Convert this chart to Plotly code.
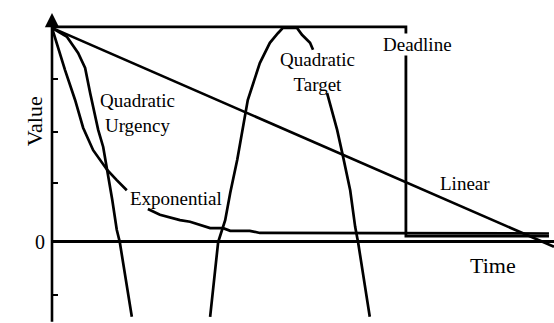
import plotly.graph_objects as go

# time axis: 0 at the value axis, 10 at the right edge
# value axis: 0 at the time line, 4 = start value

linear_t = [0.0, 10.0]
linear_v = [4.0, -0.10]

deadline_t = [0.0, 7.05, 7.05, 9.90]
deadline_v = [4.02, 4.02, 0.10, 0.10]

exp_t = [0.0, 0.26, 0.46, 0.62, 0.82, 1.10, 1.29, 1.49, None,
         1.91, 2.15, 2.55, 2.75, 3.15, 3.41, 3.55, 3.94, 4.14, 7.05, 9.90]
exp_v = [4.0, 3.21, 2.65, 2.13, 1.71, 1.34, 1.15, 0.96, None,
         0.61, 0.50, 0.40, 0.37, 0.25, 0.25, 0.20, 0.20, 0.16, 0.15, 0.15]

urgency_t = [0.0, 0.30, 0.52, 0.66, 0.76, 0.86, 0.92, 1.02, 1.10, 1.20, 1.29, 1.35, 1.59]
urgency_v = [4.0, 3.83, 3.53, 3.25, 2.78, 2.33, 2.09, 1.77, 1.34, 0.78, 0.22, -0.01, -1.41]

target_t = [3.15, 3.31, 3.45, 3.55, 3.69, 3.90, 4.14, 4.34, 4.50, 4.60, 4.74, 4.88,
            4.98, 5.14, 5.20, None, 5.48, 5.68, 5.80, 5.94, 6.04, 6.10, 6.33]
target_v = [-1.41, -0.01, 0.40, 0.91, 1.53, 2.65, 3.34, 3.72, 3.90, 4.0, 4.0, 4.0,
            3.87, 3.72, 3.59, None, 2.78, 2.09, 1.58, 0.96, 0.27, -0.03, -1.41]

tick_vals = [3.04, 2.05, 1.10, 0, -1.0]
tick_text = ["", "", "", "0", ""]

labels = [
    ("Quadratic<br>Urgency", 1.71, 2.41),
    ("Exponential", 2.47, 0.81),
    ("Quadratic<br>Target", 5.28, 3.17),
    ("Deadline", 7.29, 3.68),
    ("Linear", 8.23, 1.08),
    ("Time", 8.78, -0.44),
]

FONT = "Liberation Serif"
LW = 2.7

fig = go.Figure()
for t, v, w in [
    (deadline_t, deadline_v, 2.8),
    (linear_t, linear_v, LW),
    (exp_t, exp_v, LW),
    (urgency_t, urgency_v, LW),
    (target_t, target_v, LW),
]:
    fig.add_trace(go.Scatter(
        x=t, y=v, mode="lines",
        line=dict(color="black", width=w),
        connectgaps=False, showlegend=False, hoverinfo="skip",
    ))

for text, t, v in labels:
    fig.add_annotation(
        x=t, y=v, xref="x", yref="y", text=text, showarrow=False,
        font=dict(family=FONT, size=22 if text == "Time" else 19, color="black"),
        bgcolor="white" if text == "Deadline" else None,
        borderpad=0,
    )

# value axis with arrow
fig.add_annotation(
    x=0, y=4.28, ax=0, ay=-1.53, xref="x", yref="y", axref="x", ayref="y",
    text="", showarrow=True, arrowhead=2, arrowsize=1.1, arrowwidth=2.6,
    arrowcolor="black",
)
fig.add_annotation(
    x=20 / 554, y=2.24, xref="paper", yref="y", text="Value", textangle=-90,
    showarrow=False, font=dict(family=FONT, size=22, color="black"),
)

fig.update_xaxes(
    domain=[52 / 554, 1], range=[0, 10], showgrid=False, zeroline=False,
    showticklabels=False, ticks="", showline=False,
)
fig.update_yaxes(
    range=[-1.526, 4.522], showgrid=False, zeroline=True, zerolinecolor="black",
    zerolinewidth=2.6, showline=False, ticks="inside", ticklen=6, tickwidth=2,
    tickcolor="black", tickvals=tick_vals, ticktext=tick_text,
    tickfont=dict(family=FONT, size=20, color="black"), ticklabelstandoff=6,
)
fig.update_layout(
    width=554, height=323,
    margin=dict(l=0, r=0, t=0, b=0),
    paper_bgcolor="white", plot_bgcolor="white",
    font=dict(family=FONT, color="black"),
)
fig.write_html(
    "out.html",
    config={"displayModeBar": False},
    post_script="document.body.style.margin = '0';",
)
